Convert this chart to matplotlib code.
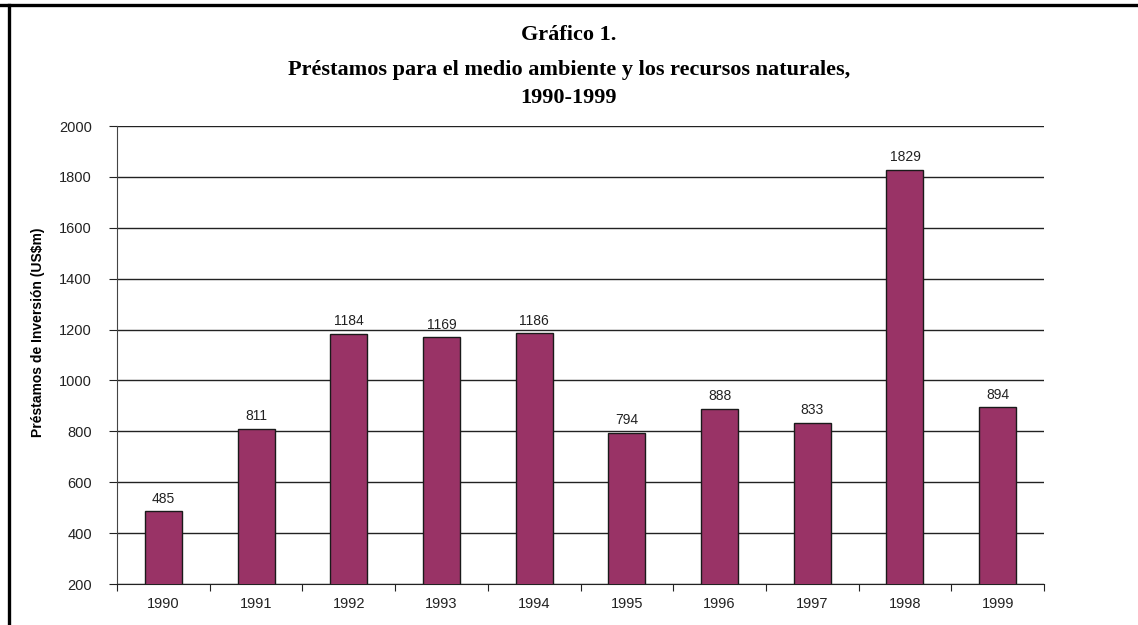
import matplotlib.pyplot as plt
from matplotlib.lines import Line2D
from matplotlib.ticker import FixedLocator, NullFormatter

years = ["1990", "1991", "1992", "1993", "1994", "1995", "1996", "1997", "1998", "1999"]
loans = [485, 811, 1184, 1169, 1186, 794, 888, 833, 1829, 894]
y_ticks = [200, 400, 600, 800, 1000, 1200, 1400, 1600, 1800, 2000]

title_lines = [
    "Gráfico 1.",
    "Préstamos para el medio ambiente y los recursos naturales,",
    "1990-1999",
]
y_label = "Préstamos de Inversión (US$m)"

W, H = 1138, 625
fig = plt.figure(figsize=(W / 100, H / 100), dpi=100)
ax = fig.add_axes([117 / W, 1 - 584 / H, (1044 - 117) / W, (584 - 126) / H])

pos = list(range(len(years)))
ax.bar(pos, loans, width=0.4, color="#993366", edgecolor="#1a1a1a", linewidth=1.0, zorder=3)

for x, v in zip(pos, loans):
    ax.annotate(str(v), (x, v), xytext=(0, 4), textcoords="offset points",
                ha="center", va="bottom", fontsize=10, family="Liberation Sans", color="#222222")

ax.set_xlim(-0.5, len(years) - 0.5)
ax.set_ylim(200, 2000)
ax.set_yticks(y_ticks)
ax.yaxis.grid(True, color="#222222", linewidth=1.0, zorder=0)

# ticks between categories, labels centred under bars
ax.xaxis.set_major_locator(FixedLocator([i - 0.5 for i in range(len(years) + 1)]))
ax.xaxis.set_major_formatter(NullFormatter())
ax.xaxis.set_minor_locator(FixedLocator(pos))
ax.set_xticklabels(years, minor=True)
ax.tick_params(axis="x", which="minor", length=0, pad=9)
ax.tick_params(axis="x", which="major", length=5, direction="out", color="#222222")
ax.tick_params(axis="y", length=6, direction="out", pad=12, color="#222222")
for lab in ax.get_xticklabels(minor=True) + ax.get_yticklabels():
    lab.set_family("Liberation Sans")
    lab.set_fontsize(10.5)
    lab.set_color("#222222")

for side in ("top", "right"):
    ax.spines[side].set_visible(False)
ax.spines["left"].set_color("#444444")
ax.spines["bottom"].set_color("#222222")

fig.text(38 / W, 1 - 332 / H, y_label, rotation=90, ha="center", va="center",
         fontsize=10, fontweight="bold", family="Liberation Sans")

for y_px, line in zip([35, 70, 98], title_lines):
    fig.text(0.5, 1 - y_px / H, line, ha="center", va="center",
             fontsize=16, fontweight="bold", family="Liberation Serif")

# frame around the chart (top and left edges are visible)
fig.add_artist(Line2D([0, 1], [1 - 4.5 / H, 1 - 4.5 / H], color="black", linewidth=2.4, transform=fig.transFigure))
fig.add_artist(Line2D([9 / W, 9 / W], [0, 1 - 4.5 / H], color="black", linewidth=2.4, transform=fig.transFigure))

fig.savefig("out.png", dpi=100)
